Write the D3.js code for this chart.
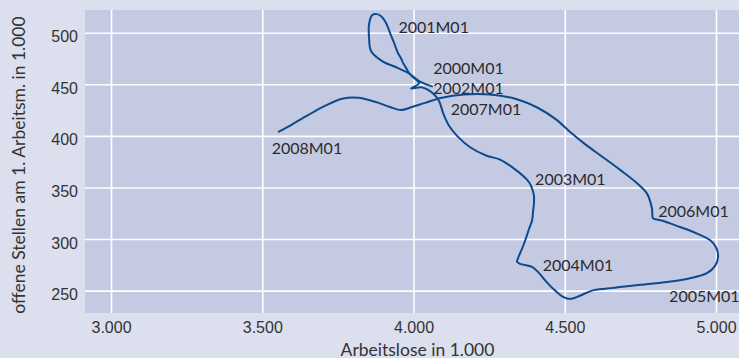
<!DOCTYPE html>
<html>
<head>
<meta charset="utf-8">
<script src="https://cdn.jsdelivr.net/npm/d3@7"></script>
<style>
  html, body { margin: 0; padding: 0; background: #dcdfee; }
  svg { display: block; font-family: Lato, "Open Sans", sans-serif; }
</style>
</head>
<body>
<div id="chart"></div>
<script>
// Beveridge-Kurve: Arbeitslose vs. offene Stellen, monatlich 2000M01 - 2008M01
var years = [2000, 2001, 2002, 2003, 2004, 2005, 2006, 2007, 2008];

var arbeitslose = [
  4061, 4025, 3982, 3939, 3899, 3860, 3853, 3853, 3863, 3879, 3893, 3906, 3916,
  3922, 3929, 3936, 3942, 3949, 3959, 3965, 3975, 3985, 3998, 4018, 3992,
  4028, 4061, 4084, 4098, 4117, 4144, 4187, 4240, 4286, 4329, 4359, 4382,
  4392, 4398, 4398, 4395, 4392, 4382, 4372, 4362, 4352, 4345, 4342, 4352,
  4392, 4415, 4441, 4468, 4494, 4521, 4550, 4590, 4640, 4699, 4765, 4831,
  4914, 4970, 4997, 5007, 5000, 4980, 4947, 4907, 4868, 4831, 4805, 4792,
  4788, 4772, 4739, 4683, 4623, 4567, 4517, 4471, 4412, 4336, 4253, 4167,
  4094, 4038, 3995, 3959, 3922, 3873, 3817, 3764, 3707, 3651, 3598, 3555
];

var offeneStellen = [
  448, 452, 461, 467, 472, 482, 495, 508, 517, 518, 516, 511, 505,
  500, 495, 490, 485, 480, 475, 471, 466, 461, 457, 451, 446,
  447, 442, 434, 422, 410, 400, 389, 381, 377, 369, 362, 355,
  349, 342, 334, 326, 318, 310, 301, 293, 286, 281, 278, 276,
  273, 267, 258, 250, 244, 242, 245, 250, 252, 254, 256, 258,
  262, 267, 274, 283, 292, 299, 304, 309, 313, 317, 319, 320,
  330, 344, 354, 367, 380, 392, 404, 416, 427, 436, 440, 440,
  437, 432, 428, 425, 428, 433, 437, 436, 429, 420, 411, 404
];

// Beschriftungen der Januarwerte (Ankerpunkt in Dateneinheiten)
var labelText = ['2000M01', '2001M01', '2002M01', '2003M01', '2004M01', '2005M01', '2006M01', '2007M01', '2008M01'];
var labelX = [4065, 3950, 4065, 4402, 4427, 4845, 4809, 4123, 3531];
var labelY = [460, 500, 441, 352, 269, 239, 321, 420, 382];

var xTicks = [3000, 3500, 4000, 4500, 5000];
var yTicks = [250, 300, 350, 400, 450, 500];

var xTitle = 'Arbeitslose in 1.000';
var yTitle = 'offene Stellen am 1. Arbeitsm. in 1.000';

var W = 739, H = 358;
var margin = {top: 10, right: 0, bottom: 45, left: 85};

var de = d3.formatLocale({decimal: ',', thousands: '.', grouping: [3], currency: ['', ' €']});
var fmt = de.format(',');

var x = d3.scaleLinear().domain([2914, 5076]).range([margin.left, W - margin.right]);
var y = d3.scaleLinear().domain([228.3, 522]).range([H - margin.bottom, margin.top]);

var svg = d3.select('#chart').append('svg')
  .attr('width', W)
  .attr('height', H);

svg.append('rect')
  .attr('width', W).attr('height', H)
  .attr('fill', '#dcdfee');

svg.append('rect')
  .attr('x', margin.left).attr('y', margin.top)
  .attr('width', W - margin.left - margin.right)
  .attr('height', H - margin.top - margin.bottom)
  .attr('fill', '#c5cae3');

// Gitter
svg.append('g')
  .attr('transform', 'translate(0,' + margin.top + ')')
  .call(d3.axisBottom(x).tickValues(xTicks).tickSize(H - margin.top - margin.bottom).tickFormat(''))
  .call(function(g){
    g.select('.domain').remove();
    g.selectAll('line').attr('stroke', '#ffffff').attr('stroke-width', 1.6);
  });

svg.append('g')
  .attr('transform', 'translate(' + margin.left + ',0)')
  .call(d3.axisRight(y).tickValues(yTicks).tickSize(W - margin.left - margin.right).tickFormat(''))
  .call(function(g){
    g.select('.domain').remove();
    g.selectAll('line').attr('stroke', '#ffffff').attr('stroke-width', 1.6);
  });

// Achsenbeschriftung
svg.append('g')
  .attr('transform', 'translate(0,' + (H - margin.bottom) + ')')
  .call(d3.axisBottom(x).tickValues(xTicks).tickSize(0).tickPadding(0).tickFormat(fmt))
  .call(function(g){
    g.select('.domain').remove();
    g.selectAll('text')
      .attr('y', 20)
      .attr('dy', 0)
      .attr('fill', '#333')
      .style('font-size', '16px');
  });

svg.append('g')
  .attr('transform', 'translate(' + margin.left + ',0)')
  .call(d3.axisLeft(y).tickValues(yTicks).tickSize(0).tickPadding(0).tickFormat(fmt))
  .call(function(g){
    g.select('.domain').remove();
    g.selectAll('text')
      .attr('x', -7)
      .attr('dy', 9)
      .attr('fill', '#333')
      .style('font-size', '16px');
  });

svg.append('text')
  .attr('x', 417.5)
  .attr('y', 355.5)
  .attr('text-anchor', 'middle')
  .attr('fill', '#333')
  .style('font-size', '17.5px')
  .text(xTitle);

svg.append('text')
  .attr('transform', 'translate(25,165) rotate(-90)')
  .attr('text-anchor', 'middle')
  .attr('fill', '#333')
  .style('font-size', '17.5px')
  .text(yTitle);

// Kurve
var pts = arbeitslose.map(function(d, i){ return [d, offeneStellen[i]]; });

var line = d3.line()
  .x(function(d){ return x(d[0]); })
  .y(function(d){ return y(d[1]); })
  .curve(d3.curveCatmullRom.alpha(0.5));

svg.append('path')
  .datum(pts)
  .attr('d', line)
  .attr('fill', 'none')
  .attr('stroke', '#0b4a8c')
  .attr('stroke-width', 2)
  .attr('stroke-linejoin', 'round')
  .attr('stroke-linecap', 'round');

svg.append('g').selectAll('text')
  .data(labelText)
  .enter().append('text')
    .attr('x', function(d, i){ return x(labelX[i]); })
    .attr('y', function(d, i){ return y(labelY[i]); })
    .attr('fill', '#2b2b2b')
    .style('font-size', '16px')
    .text(function(d){ return d; });
</script>
</body>
</html>
